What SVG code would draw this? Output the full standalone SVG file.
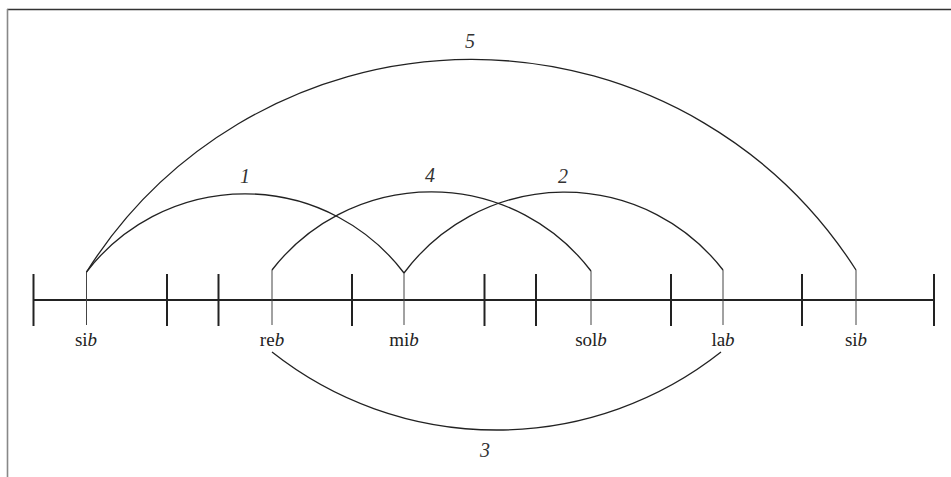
<svg xmlns="http://www.w3.org/2000/svg" width="951" height="477" viewBox="0 0 951 477">
<style>
.frame-top{stroke:#333;stroke-width:1.4;fill:none}
.frame-left{stroke:#888;stroke-width:1.6;fill:none}
.axis{stroke:#222;stroke-width:2;fill:none}
.major{stroke:#222;stroke-width:2;fill:none}
.note{stroke:#444;stroke-width:1;fill:none}
.arc{stroke:#222;stroke-width:1.3;fill:none}
.lbl{font-family:"Liberation Serif","DejaVu Serif",serif;font-size:19px;fill:#222;text-anchor:middle}
.num{font-family:"Liberation Serif","DejaVu Serif",serif;font-size:20px;font-style:italic;fill:#333;text-anchor:middle}
.it{font-style:italic}
</style>
<rect width="951" height="477" fill="#fff"/>
<line class="frame-top" x1="7" y1="9.5" x2="951" y2="9.5"/>
<line class="frame-left" x1="7.5" y1="9" x2="7.5" y2="477"/>
<g id="axis">
<line class="axis" x1="33" y1="300" x2="934" y2="300"/>
<g class="major">
<line x1="33.5" y1="274" x2="33.5" y2="326"/>
<line x1="167" y1="274" x2="167" y2="326"/>
<line x1="218.5" y1="274" x2="218.5" y2="326"/>
<line x1="352" y1="274" x2="352" y2="326"/>
<line x1="484.5" y1="274" x2="484.5" y2="326"/>
<line x1="536" y1="274" x2="536" y2="326"/>
<line x1="671" y1="274" x2="671" y2="326"/>
<line x1="802" y1="274" x2="802" y2="326"/>
<line x1="934" y1="274" x2="934" y2="326"/>
</g>
</g>
<g id="n-sib1"><line class="note" x1="86.5" y1="272" x2="86.5" y2="325"/><text class="lbl" x="86" y="346">si<tspan class="it">b</tspan></text></g>
<g id="n-reb"><line class="note" x1="272" y1="270" x2="272" y2="325"/><text class="lbl" x="272" y="346">re<tspan class="it">b</tspan></text></g>
<g id="n-mib"><line class="note" x1="404" y1="273" x2="404" y2="325"/><text class="lbl" x="404" y="346">mi<tspan class="it">b</tspan></text></g>
<g id="n-solb"><line class="note" x1="591" y1="271" x2="591" y2="325"/><text class="lbl" x="591" y="346">sol<tspan class="it">b</tspan></text></g>
<g id="n-lab"><line class="note" x1="723" y1="270" x2="723" y2="325"/><text class="lbl" x="723" y="346">la<tspan class="it">b</tspan></text></g>
<g id="n-sib2"><line class="note" x1="856" y1="270" x2="856" y2="325"/><text class="lbl" x="856" y="346">si<tspan class="it">b</tspan></text></g>
<g id="connectors">
<path class="arc" d="M86.5,272 A455.6,455.6 0 0 1 856,270"/>
<path class="arc" d="M86.5,272 A199.5,199.5 0 0 1 404,273"/>
<path class="arc" d="M272,270 A201,201 0 0 1 591,271"/>
<path class="arc" d="M404,273 A200,200 0 0 1 723,270"/>
<path class="arc" d="M272,352 A362,362 0 0 0 721,352"/>
</g>
<g id="labels">
<text class="num" x="470" y="48">5</text>
<text class="num" x="245" y="183">1</text>
<text class="num" x="430" y="182">4</text>
<text class="num" x="563" y="183">2</text>
<text class="num" x="485" y="457">3</text>
</g>
</svg>
